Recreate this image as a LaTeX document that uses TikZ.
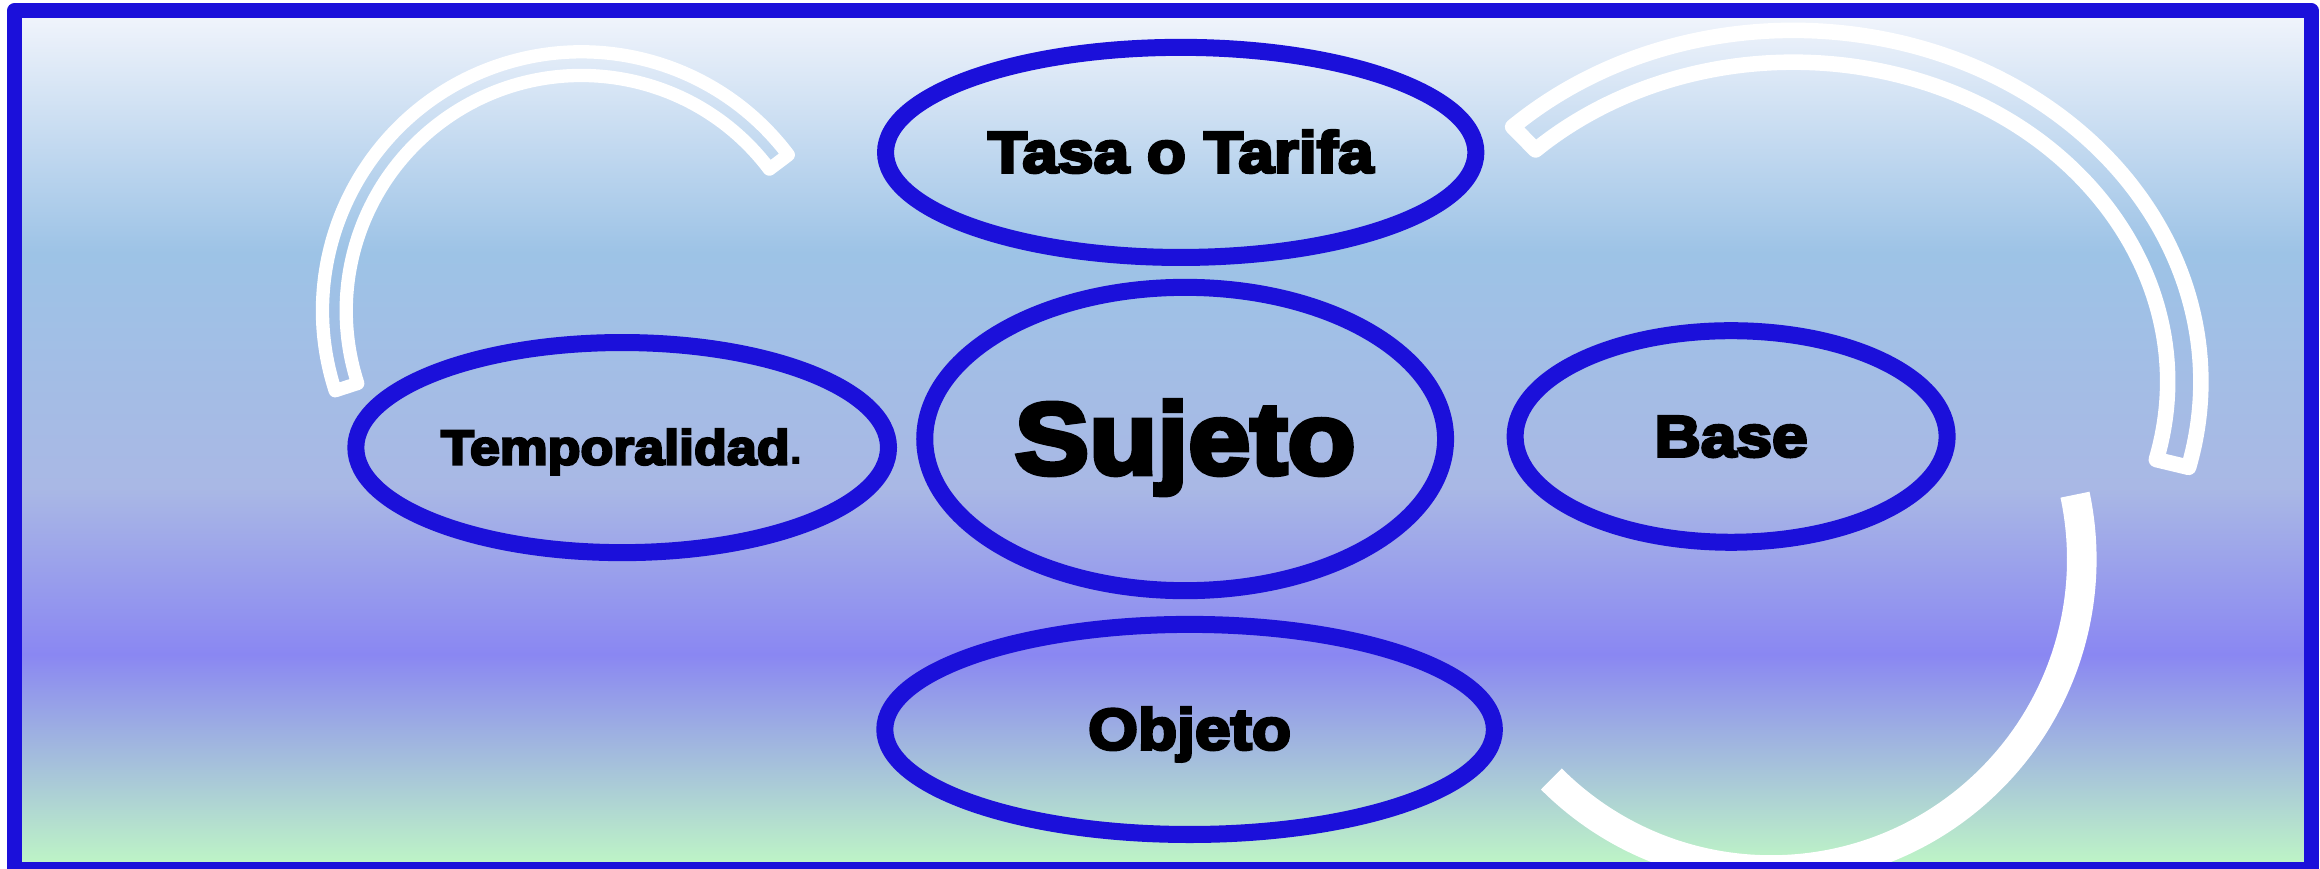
\documentclass[tikz,border=0pt]{standalone}
\usepackage{fontspec}
\usetikzlibrary{shapes.geometric}

\newfontfamily\pesante{Liberation Sans Bold}[FakeStretch=1.1,FakeBold=5]
\newfontfamily\punto{Liberation Sans Bold}
\newcommand{\testomedio}{\pesante\fontsize{11.2}{13}\selectfont}
\newcommand{\testogrande}{\pesante\fontsize{19.5}{22}\selectfont}
\newcommand{\testopiccolo}{\pesante\fontsize{9.4}{11}\selectfont}

\definecolor{bordoblu}{RGB}{27,16,218}
\definecolor{fondobianco}{HTML}{F2F5FC}
\definecolor{fondoazzurro}{HTML}{9DC3E6}
\definecolor{fondogrigio}{HTML}{A9B8E5}
\definecolor{fondoviola}{HTML}{8A87F2}
\definecolor{fondoverde}{HTML}{BEF5C6}
\pgfdeclareverticalshading{fondo}{100bp}{color(0bp)=(fondoverde); color(25.3bp)=(fondoverde); color(37.5bp)=(fondoviola); color(47.2bp)=(fondogrigio); color(60.9bp)=(fondoazzurro); color(75bp)=(fondobianco); color(100bp)=(fondobianco)}

\begin{document}
\begin{tikzpicture}[x=0.1mm,y=0.1mm,
        ovale/.style={ellipse,draw=bordoblu,line width=1.15mm,inner sep=0pt,text depth=0pt},
        arco/.style={draw=white,line width=0.9mm,line join=round}]
        \useasboundingbox (0,0) rectangle (1568,587);

        %%%%%%%% Sfondo %%%%%%%%%
        \shade[shading=fondo] (9.8,-0.5) rectangle (1562,579.9);

        %%%%%%%% Archi %%%%%%%%%
        \draw[arco] (393,377) ++(198:175) arc[start angle=198,end angle=37,radius=175]
            -- ++(37:-16) arc[start angle=37,end angle=198,radius=159] -- cycle;
        \draw[arco,line width=1.05mm] (1212,329) ++(133.5:275.5 and 237.5)
            arc[start angle=133.5,end angle=-14.1,x radius=275.5,y radius=237.5]
            -- ++(-14.1:-22.5 and -21.5)
            arc[start angle=-14.1,end angle=133.5,x radius=253,y radius=216] -- cycle;
        \draw[white,line width=2mm] (1197,209) ++(-135:210) arc[start angle=-135,end angle=12,radius=210];

        %%%%%%%% Ovali %%%%%%%%%
        \node[ovale,minimum width=39.9mm,minimum height=14.2mm,font=\testomedio,text height=7.7pt] (tasa) at (798,484) {Tasa o Tarifa};
        \node[ovale,minimum width=35.2mm,minimum height=20.5mm,font=\testogrande,text height=13.4pt] (sujeto) at (801,290.3) {Sujeto};
        \node[ovale,minimum width=36mm,minimum height=14.2mm,font=\testopiccolo,text height=6.5pt] (temporalidad) at (420.5,284.5) {Temporalidad{\punto.}};
        \node[ovale,minimum width=29.2mm,minimum height=14.3mm,font=\testomedio,text height=7.7pt] (base) at (1170,292) {Base};
        \node[ovale,minimum width=41.2mm,minimum height=14.2mm,font=\testomedio,text height=7.7pt] (objeto) at (804,94) {Objeto};

        %%%%%%%% Cornice %%%%%%%%%
        \draw[bordoblu,line width=1mm,line join=round] (9.8,-0.5) rectangle (1562,579.9);

    \end{tikzpicture}
\end{document}
